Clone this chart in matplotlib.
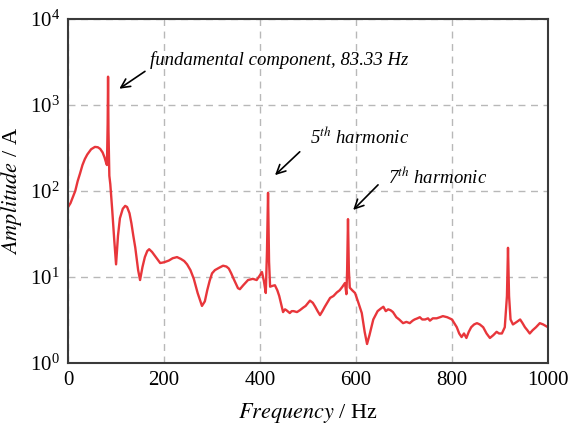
import numpy as np
import matplotlib
matplotlib.use('Agg')
import matplotlib.pyplot as plt
from matplotlib.ticker import NullLocator, FixedLocator

plt.rcParams['font.family'] = ['Liberation Serif', 'DejaVu Serif']
plt.rcParams['mathtext.fontset'] = 'stix'

# spectrum
freq = [0, 5, 10, 15, 20, 25, 30, 35, 40, 48, 56, 62, 67, 72, 76, 79, 81, 82.5, 83.33,
        84.2, 86, 88, 92, 96, 100, 104, 108, 114, 119, 123, 128, 132, 136, 140, 146,
        150, 155, 160, 165, 169, 175, 183, 192, 200, 210, 218, 227, 235, 242, 248,
        255, 262, 270, 279, 285, 290, 295, 300, 306, 315, 323, 330, 335, 340, 345,
        354, 358, 365, 375, 385, 393, 400, 404, 408, 412, 414.5, 416.7, 418.8, 421,
        427, 431, 436, 440, 448, 452, 455, 462, 466, 470, 477, 483, 490, 495, 504,
        510, 515, 520, 525, 530, 535, 546, 553, 560, 566, 571, 577, 580, 581.5,
        583.3, 585.1, 587, 592, 598, 605, 612, 618, 623, 628, 636, 645, 652, 657,
        662, 667, 672, 677, 684, 690, 698, 705, 712, 718, 722, 728, 733, 738, 744,
        750, 754, 760, 768, 775, 781, 790, 800, 810, 815, 820, 825, 830, 835, 840,
        846, 852, 858, 865, 872, 879, 886, 893, 898, 904, 910, 914.5, 916.7, 918.9,
        922, 927, 935, 942, 947, 952, 957, 962, 968, 975, 983, 990, 1000]
amp = [65, 72, 85, 100, 130, 160, 200, 235, 265, 305, 325, 322, 308, 280, 245, 215, 200, 600, 2130,
       500, 150, 120, 60, 28, 14, 30, 48, 62, 67, 65, 55, 42, 30, 22, 12,
       9.2, 13, 17, 20, 21, 19.5, 17, 14.5, 14.8, 15.5, 16.5, 17, 16.2, 15.3, 14,
       12, 9.5, 6.5, 4.6, 5.2, 7, 9, 11, 12, 12.8, 13.5, 13.2, 12.5, 11, 9.5,
       7.4, 7.2, 8, 9.2, 9.5, 9.2, 10.5, 11.4, 9, 6.5, 20, 95, 15, 7.7,
       7.9, 8, 7, 6, 3.9, 4.2, 4.1, 3.8, 4.0, 4.0, 3.9, 4.1, 4.4, 4.6, 5.3,
       5.0, 4.5, 4.0, 3.6, 4.0, 4.5, 5.7, 6.0, 6.6, 7.0, 7.6, 8.5, 6.3, 12,
       47, 12, 7.5, 7.0, 6.5, 5, 3.8, 2.3, 1.66, 2.1, 3.2, 4.0, 4.3, 4.5,
       4.0, 4.2, 4.1, 3.9, 3.4, 3.2, 2.9, 3.0, 2.9, 3.1, 3.2, 3.3, 3.4, 3.2, 3.2,
       3.3, 3.1, 3.3, 3.3, 3.4, 3.5, 3.4, 3.2, 2.6, 2.2, 2.0, 2.2, 1.95, 2.3, 2.6,
       2.8, 2.9, 2.8, 2.6, 2.2, 1.95, 2.1, 2.3, 2.2, 2.2, 2.6, 6, 21.8, 6,
       3.2, 2.8, 3.0, 3.2, 2.9, 2.6, 2.4, 2.2, 2.4, 2.6, 2.9, 2.8, 2.6]

xticks = [0, 200, 400, 600, 800, 1000]
yticks = [1, 10, 100, 1000, 10000]

fig = plt.figure(figsize=(5.72, 4.30), dpi=100)
ax = fig.add_axes([0.119, 0.156, 0.839, 0.800])

ax.plot(freq, amp, color='#e8363b', lw=1.7)

ax.set_yscale('log')
ax.set_xlim(0, 1000)
ax.set_ylim(1, 1e4)
ax.xaxis.set_major_locator(FixedLocator(xticks))
ax.yaxis.set_major_locator(FixedLocator(yticks))
ax.yaxis.set_minor_locator(NullLocator())
ax.tick_params(length=0, labelsize=15, pad=6)
ax.grid(True, color='#b8b8b8', ls=(0, (5, 4)), lw=1)

for s in ax.spines.values():
    s.set_color('#3a3a3a')
    s.set_linewidth(1.5)

ax.set_xlabel(r'$\mathit{Frequency}$ / Hz', fontsize=16, labelpad=8)
ax.set_ylabel(r'$\mathit{Amplitude}$ / A', fontsize=16, labelpad=4)

arrow = dict(arrowstyle='->', color='black', lw=1.2, mutation_scale=16)
ax.text(171, 3330, 'fundamental component, 83.33 Hz', fontsize=13.5,
        style='italic', ha='left', va='center')
ax.annotate('', xy=(102, 1480), xytext=(165, 2560), arrowprops=arrow)
ax.text(504, 425, r'5$^{\mathit{th}}$ harmonic', fontsize=13.5,
        style='italic', ha='left', va='center')
ax.annotate('', xy=(427, 145), xytext=(487, 300), arrowprops=arrow)
ax.text(667, 145, r'7$^{\mathit{th}}$ harmonic', fontsize=13.5,
        style='italic', ha='left', va='center')
ax.annotate('', xy=(590, 57), xytext=(650, 124), arrowprops=arrow)

fig.savefig('out.png', dpi=100)
